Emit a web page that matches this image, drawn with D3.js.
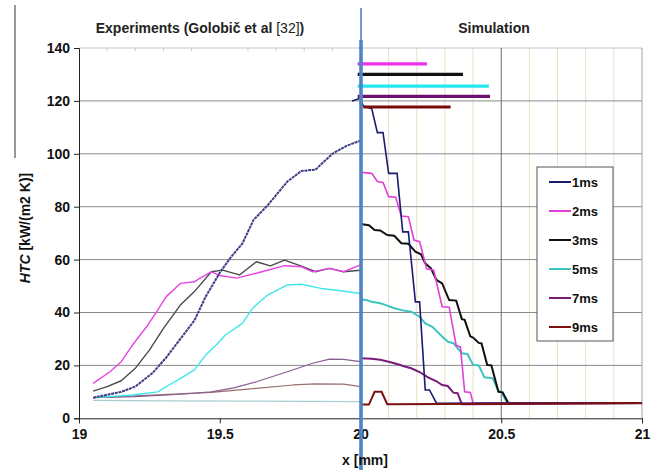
<!DOCTYPE html>
<html>
<head>
<meta charset="utf-8">
<script src="https://cdn.jsdelivr.net/npm/d3@7"></script>
<style>
  html, body { margin: 0; padding: 0; background: #fff; }
  svg { display: block; }
  text { font-family: "Liberation Sans", Arial, sans-serif; }
</style>
</head>
<body>
<svg id="chart" width="664" height="470"></svg>
<script>
// ---- Axis ticks ----
const xTicks = [19, 19.5, 20, 20.5, 21];
const yTicks = [0, 20, 40, 60, 80, 100, 120, 140];
const simMinorX = [20.1, 20.2, 20.3, 20.4, 20.6, 20.7, 20.8, 20.9];
const expMinorX = [19.1, 19.2, 19.3, 19.4, 19.6, 19.7, 19.8, 19.9];

// ---- Experimental HTC profiles (x [mm], HTC [kW/(m2 K)]) ----
const exp1ms = [[19.05,7.8],[19.15,10],[19.2,12],[19.26,17],[19.31,23],[19.36,30],[19.41,37],[19.45,46],[19.5,55],[19.54,61],[19.58,66],[19.62,75],[19.67,80.5],[19.74,89.5],[19.79,93.5],[19.84,94],[19.9,100],[19.95,103],[20,105]];
const exp2ms = [[19.05,13.2],[19.11,17.6],[19.15,21.4],[19.19,27.7],[19.24,34.6],[19.28,41],[19.31,46],[19.36,51],[19.41,51.6],[19.43,53],[19.47,55.4],[19.5,54],[19.56,53],[19.65,55.4],[19.73,57.7],[19.79,57.3],[19.83,55.4],[19.89,56.7],[19.94,55.4],[20,58]];
const exp3ms = [[19.05,10.3],[19.1,12],[19.15,14.2],[19.2,18.9],[19.25,25.8],[19.3,34],[19.36,42.8],[19.41,47.9],[19.47,55.4],[19.51,56],[19.57,54.2],[19.63,59.2],[19.68,57.6],[19.73,59.8],[19.79,57.5],[19.84,55.4],[19.89,56.7],[19.94,55.4],[20,56]];
const exp5ms = [[19.05,7.8],[19.19,8.8],[19.28,10],[19.32,12.6],[19.37,15.7],[19.41,18.3],[19.45,23.9],[19.49,28],[19.52,31.5],[19.58,35.9],[19.62,42],[19.67,46.6],[19.74,50.4],[19.79,50.7],[19.86,49.1],[19.93,48.2],[20,47.2]];
const exp7ms = [[19.05,7.8],[19.2,8.2],[19.35,9],[19.47,10],[19.55,11.5],[19.63,13.8],[19.74,17.6],[19.83,20.8],[19.89,22.4],[19.94,22.3],[20,21.4]];
const exp9ms = [[19.05,7.8],[19.2,8.5],[19.47,9.8],[19.63,11.3],[19.76,12.6],[19.84,13],[19.94,12.9],[20,12]];
const expLow = [[19.05,6.8],[19.3,6.6],[19.6,6.5],[20,6.3]];

// ---- Simulated HTC profiles ----
const sim1ms = [[19.97,120],[20,121],[20.01,118],[20.04,117],[20.06,108],[20.08,108],[20.1,92.6],[20.13,92.6],[20.15,70.5],[20.17,70.5],[20.195,44],[20.21,44],[20.23,10.7],[20.245,10.7],[20.27,5.7],[21,5.8]];
const sim2ms = [[20,93],[20.02,92.8],[20.04,92.6],[20.06,89.5],[20.08,89.2],[20.1,83.8],[20.125,83.6],[20.145,76.5],[20.17,76.2],[20.19,67.4],[20.21,66.8],[20.235,56.5],[20.26,56],[20.29,42.2],[20.315,42],[20.34,27.5],[20.355,27],[20.37,10],[20.39,9.8],[20.4,5.7],[21,5.8]];
const sim3ms = [[20,73.5],[20.03,73],[20.05,71.2],[20.07,71],[20.095,69.3],[20.12,69],[20.145,66.2],[20.17,66],[20.195,63],[20.215,62],[20.23,58.6],[20.25,56.7],[20.27,52.3],[20.29,51],[20.315,44.7],[20.34,44.5],[20.36,37.5],[20.37,37.2],[20.39,31],[20.4,30.5],[20.42,28.5],[20.43,28.3],[20.45,20.2],[20.465,20],[20.49,10],[20.505,9.8],[20.525,5.8],[21,5.8]];
const sim5ms = [[20,45],[20.02,44.7],[20.04,44.1],[20.07,43.5],[20.09,42.8],[20.12,41.6],[20.15,40.8],[20.18,40.3],[20.21,38.4],[20.23,35.9],[20.255,34.6],[20.29,30.9],[20.31,29],[20.33,28.4],[20.36,24.6],[20.38,24.3],[20.4,20.2],[20.42,20],[20.44,15.5],[20.47,15.1],[20.49,10.3],[20.5,10],[20.52,6],[20.53,5.8],[21,5.8]];
const sim7ms = [[20,22.7],[20.04,22.5],[20.07,22.1],[20.1,21.4],[20.13,20.5],[20.16,19.5],[20.18,18.9],[20.21,17.5],[20.24,15.5],[20.27,14],[20.29,12.6],[20.31,12.2],[20.33,9.7],[20.345,9.5],[20.36,5.3],[20.52,5.4],[21,5.7]];
const sim9ms = [[20,5.2],[20.03,5.2],[20.05,10],[20.075,10],[20.095,5.3],[20.5,5.5],[21,5.8]];

// ---- Peak HTC bars: [series, peak value, x start, x end] ----
const peakSeries = ["2ms", "3ms", "5ms", "7ms", "9ms"];
const peakValues = [134, 130, 125.6, 121.7, 117.7];
const peakStart = [19.99, 19.99, 19.99, 19.99, 20.01];
const peakEnd = [20.236, 20.364, 20.456, 20.46, 20.32];

const seriesNames = ["1ms", "2ms", "3ms", "5ms", "7ms", "9ms"];
const seriesColors = {"1ms": "#1b1b70", "2ms": "#e040d8", "3ms": "#111111", "5ms": "#3cc4c0", "7ms": "#7a1a78", "9ms": "#7a1010"};

const svg = d3.select("#chart");
const x = d3.scaleLinear().domain([19, 21]).range([79, 642]);
const y = d3.scaleLinear().domain([0, 140]).range([418.3, 48]);

// Minor vertical gridlines in the simulation half
svg.append("g").selectAll("line").data(simMinorX).join("line")
  .attr("x1", d => x(d)).attr("x2", d => x(d))
  .attr("y1", y(140)).attr("y2", y(0))
  .attr("stroke", "#eadfc4").attr("stroke-width", 1);

// Small top-edge marks in the experiment half
svg.append("g").selectAll("line").data(expMinorX).join("line")
  .attr("x1", d => x(d)).attr("x2", d => x(d))
  .attr("y1", y(140)).attr("y2", y(140) + 3)
  .attr("stroke", "#c8c8c8").attr("stroke-width", 1);

// Horizontal gridlines
svg.append("g").selectAll("line").data(yTicks.filter(d => d > 0 && d < 140)).join("line")
  .attr("x1", x(19)).attr("x2", x(21))
  .attr("y1", d => y(d)).attr("y2", d => y(d))
  .attr("stroke", "#8a8a8a").attr("stroke-width", 1);
// Top edge
svg.append("line").attr("x1", x(19)).attr("x2", x(21)).attr("y1", y(140)).attr("y2", y(140))
  .attr("stroke", "#c4c4c4").attr("stroke-width", 1);
// Major verticals
svg.append("g").selectAll("line").data([20.5, 21]).join("line")
  .attr("x1", d => x(d)).attr("x2", d => x(d))
  .attr("y1", y(140)).attr("y2", y(0))
  .attr("stroke", d => d === 21 ? "#a0a0a0" : "#6a6a6a").attr("stroke-width", 1);

// Axes
const yAxis = d3.axisLeft(y).tickValues(yTicks).tickSize(5).tickPadding(4).tickFormat(d3.format("d"));
const gy = svg.append("g").attr("transform", `translate(${x(19)},0)`).call(yAxis);
gy.select(".domain").attr("stroke", "#222");
gy.selectAll(".tick line").attr("stroke", "#222");
gy.selectAll("text").attr("font-size", 14).attr("font-weight", "bold").attr("fill", "#111");

const xAxis = d3.axisBottom(x).tickValues(xTicks).tickSize(5).tickPadding(6).tickFormat(d => d);
const gx = svg.append("g").attr("transform", `translate(0,${y(0)})`).call(xAxis);
gx.select(".domain").attr("stroke", "#222");
gx.selectAll(".tick line").attr("stroke", "#222");
gx.selectAll("text").attr("font-size", 14).attr("font-weight", "bold").attr("fill", "#111");

const line = d3.line().x(d => x(d[0])).y(d => y(d[1]));

// Experimental curves (thin)
const expCurves = [
  {data: expLow, color: "#a8cccc", w: 1.2, dash: null},
  {data: exp9ms, color: "#9a6e6e", w: 1.2, dash: null},
  {data: exp7ms, color: "#8a5e94", w: 1.2, dash: null},
  {data: exp5ms, color: "#3ee8ec", w: 1.4, dash: null},
  {data: exp3ms, color: "#4a4a4a", w: 1.4, dash: null},
  {data: exp2ms, color: "#e844e4", w: 1.4, dash: null},
  {data: exp1ms, color: "#3e3e86", w: 2, dash: "3,0.7"}
];
svg.append("g").selectAll("path").data(expCurves).join("path")
  .attr("d", d => line(d.data))
  .attr("fill", "none")
  .attr("stroke", d => d.color)
  .attr("stroke-width", d => d.w)
  .attr("stroke-dasharray", d => d.dash)
  .attr("stroke-linejoin", "round");

// Simulated curves
const simCurves = [
  {name: "7ms", data: sim7ms},
  {name: "5ms", data: sim5ms},
  {name: "3ms", data: sim3ms},
  {name: "2ms", data: sim2ms},
  {name: "1ms", data: sim1ms},
  {name: "9ms", data: sim9ms}
];
svg.append("g").selectAll("path").data(simCurves).join("path")
  .attr("d", d => line(d.data))
  .attr("fill", "none")
  .attr("stroke", d => seriesColors[d.name])
  .attr("stroke-width", d => d.name === "2ms" || d.name === "1ms" ? 1.6 : 2)
  .attr("stroke-linejoin", "miter");

// Peak HTC bars
const peakColors = {"2ms": "#ee30ee", "3ms": "#111111", "5ms": "#22e8ec", "7ms": "#6e106e", "9ms": "#7a0a0a"};
svg.append("g").selectAll("line").data(peakSeries).join("line")
  .attr("x1", (d, i) => x(peakStart[i])).attr("x2", (d, i) => x(peakEnd[i]))
  .attr("y1", (d, i) => y(peakValues[i])).attr("y2", (d, i) => y(peakValues[i]))
  .attr("stroke", d => peakColors[d]).attr("stroke-width", 3.2);

// Divider at x = 20 mm
svg.append("line").attr("x1", x(20) + 0.5).attr("x2", x(20) + 0.5).attr("y1", 8).attr("y2", 40)
  .attr("stroke", "#4f84c4").attr("stroke-width", 1.6);
svg.append("line").attr("x1", x(20) + 0.5).attr("x2", x(20) + 0.5).attr("y1", 40).attr("y2", 470)
  .attr("stroke", "#4f84c4").attr("stroke-width", 3.6);

// Legend
const lg = svg.append("g").attr("transform", "translate(537,167)");
lg.append("rect").attr("width", 76).attr("height", 174).attr("fill", "#fff").attr("stroke", "#555").attr("stroke-width", 1);
const legendY = d3.scalePoint().domain(seriesNames).range([15, 160]);
const items = lg.selectAll("g").data(seriesNames).join("g").attr("transform", d => `translate(0,${legendY(d)})`);
items.append("line").attr("x1", 12).attr("x2", 34).attr("stroke", d => seriesColors[d]).attr("stroke-width", 2);
items.append("text").attr("x", 35).attr("dy", "0.36em").attr("font-size", 13).attr("font-weight", "bold").attr("fill", "#111").text(d => d);

// Titles
const t1 = svg.append("text").attr("x", 200).attr("y", 33).attr("text-anchor", "middle")
  .attr("font-size", 14).attr("font-weight", "bold").attr("fill", "#222");
t1.append("tspan").text("Experiments (Golobič et al  ");
t1.append("tspan").attr("font-weight", "normal").text("[32]");
t1.append("tspan").text(")");
svg.append("text").attr("x", 494).attr("y", 33).attr("text-anchor", "middle")
  .attr("font-size", 14).attr("font-weight", "bold").attr("fill", "#222").text("Simulation");

// Axis titles
svg.append("text").attr("x", 365).attr("y", 465).attr("text-anchor", "middle")
  .attr("font-size", 14).attr("font-weight", "bold").attr("fill", "#111").text("x [mm]");
const yt = svg.append("text").attr("transform", "translate(30,228) rotate(-90)").attr("text-anchor", "middle")
  .attr("font-size", 14).attr("font-weight", "bold").attr("fill", "#111");
yt.append("tspan").attr("font-style", "italic").text("HTC");
yt.append("tspan").text(" [kW/(m2 K)]");

// Frame edge on the upper left
svg.append("line").attr("x1", 15).attr("x2", 15).attr("y1", 5).attr("y2", 158).attr("stroke", "#333").attr("stroke-width", 1);
</script>
</body>
</html>
